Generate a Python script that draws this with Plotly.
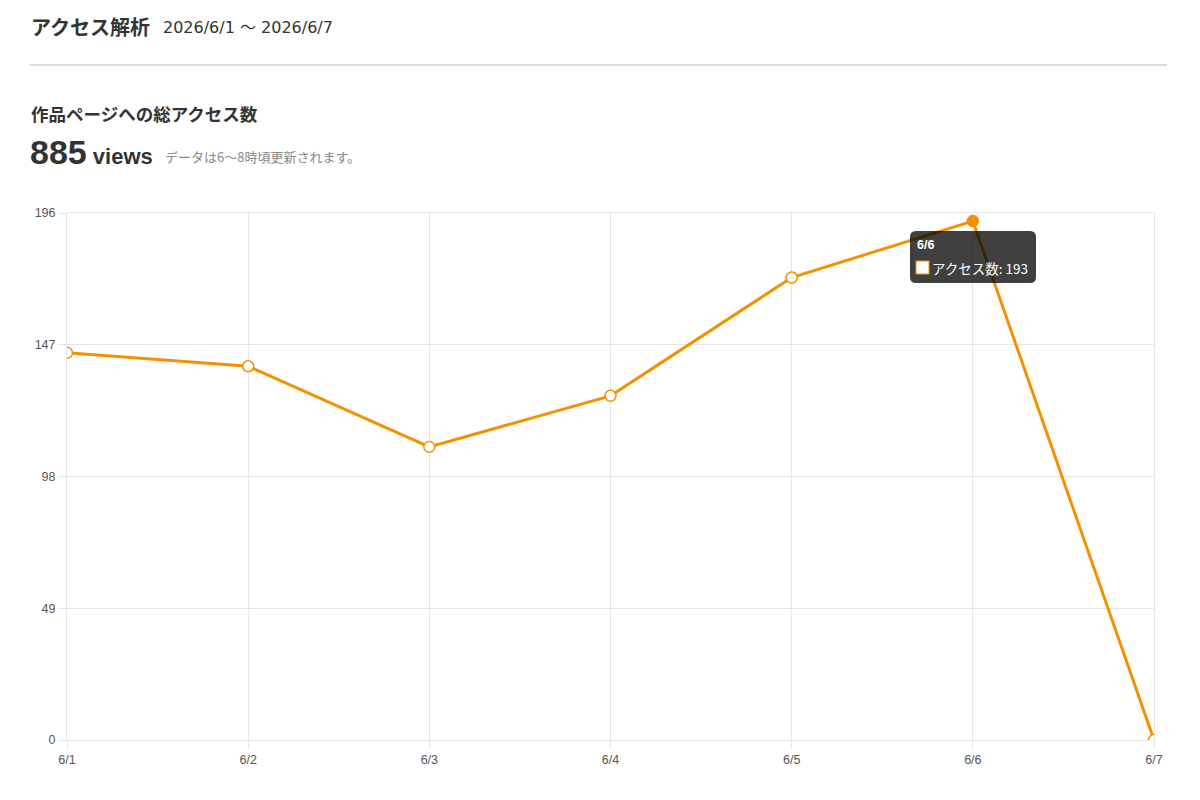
import plotly.graph_objects as go

# daily access counts
dates = ["6/1", "6/2", "6/3", "6/4", "6/5", "6/6", "6/7"]
views = [144, 139, 109, 128, 172, 193, 0]
y_ticks = [0, 49, 98, 147, 196]
hover_index = 5  # point that shows the tooltip (6/6)

ORANGE = "#f39200"
JP_FONT = "Noto Sans CJK JP, Liberation Sans, sans-serif"
NUM_FONT = "Liberation Sans, Noto Sans CJK JP, sans-serif"
WIDE_FONT = "DejaVu Sans, Noto Sans CJK JP, sans-serif"

# the page puts the figure 8px in from the top-left corner
OFF = 8
W, H = 1200 - OFF, 800 - OFF

# plot area in page pixels
L, R, T, B = 67, 1154, 213, 740


def px(x):
    return (x - L) / (R - L)


def py(y):
    return (B - y) / (B - T)


marker_fill = ["white"] * len(views)
marker_fill[hover_index] = ORANGE

fig = go.Figure(go.Scatter(
    x=dates, y=views,
    mode="lines+markers",
    line=dict(color=ORANGE, width=3),
    marker=dict(size=11, color=marker_fill, line=dict(color=ORANGE, width=1.5)),
    name="アクセス数",
    hoverinfo="skip",
))

grid = "#e6e6e6"
fig.update_xaxes(
    type="category", range=[0, len(dates) - 1],
    showgrid=True, gridcolor=grid, gridwidth=1,
    ticks="outside", ticklen=8, tickcolor=grid,
    showline=True, linecolor=grid, mirror=True, zeroline=False,
    tickfont=dict(family=NUM_FONT, size=12.5, color="#555"),
)
fig.update_yaxes(
    range=[0, 196], tickvals=y_ticks,
    showgrid=True, gridcolor=grid, gridwidth=1,
    ticks="outside", ticklen=8, tickcolor=grid,
    showline=True, linecolor=grid, mirror=True, zeroline=False,
    tickfont=dict(family=NUM_FONT, size=12.5, color="#555"),
)

annotations = [
    dict(text="<b>アクセス解析</b>", x=px(29), y=py(27), font=dict(family=JP_FONT, size=20, color="#333")),
    dict(text="2026/6/1 〜 2026/6/7", x=px(161), y=py(28), font=dict(family=WIDE_FONT, size=16, color="#333")),
    dict(text="<b>作品ページへの総アクセス数</b>", x=px(29), y=py(113), font=dict(family=JP_FONT, size=17.5, color="#333")),
    dict(text="<b><span style='font-size:34px'>885</span> views</b>", x=px(28), y=py(152),
         font=dict(family=NUM_FONT, size=22, color="#333")),
    dict(text="データは6〜8時頃更新されます。", x=px(163), y=py(156), font=dict(family=JP_FONT, size=13, color="#888")),
    # tooltip text
    dict(text="<b>6/6</b>", x=px(915), y=py(245), font=dict(family=NUM_FONT, size=12.5, color="white")),
    dict(text="アクセス数: " + str(views[hover_index]), x=px(930), y=py(268),
         font=dict(family=JP_FONT, size=13.5, color="white")),
]
for a in annotations:
    a.update(xref="paper", yref="paper", xanchor="left", yanchor="middle", showarrow=False)


def rounded_rect(x0, y0, x1, y1, r):
    # pixel box -> rounded path in paper coords
    rx = r / (R - L)
    ry = r / (B - T)
    X0, X1 = px(x0), px(x1)
    Y0, Y1 = py(y1), py(y0)  # bottom, top
    return (f"M {X0 + rx},{Y1} L {X1 - rx},{Y1} Q {X1},{Y1} {X1},{Y1 - ry} "
            f"L {X1},{Y0 + ry} Q {X1},{Y0} {X1 - rx},{Y0} L {X0 + rx},{Y0} "
            f"Q {X0},{Y0} {X0},{Y0 + ry} L {X0},{Y1 - ry} Q {X0},{Y1} {X0 + rx},{Y1} Z")


shapes = [
    # divider under the header
    dict(type="line", xref="paper", yref="paper", x0=px(30), x1=px(1167), y0=py(65), y1=py(65),
         line=dict(color="#dcdcdc", width=2)),
    # tooltip box
    dict(type="path", xref="paper", yref="paper", path=rounded_rect(910, 231, 1036, 283, 6),
         fillcolor="rgba(0,0,0,0.75)", line=dict(width=0), layer="above"),
    # tooltip colour box
    dict(type="rect", xref="paper", yref="paper", x0=px(916), x1=px(929), y0=py(274), y1=py(261),
         fillcolor="white", line=dict(color=ORANGE, width=1), layer="above"),
]

fig.update_layout(
    width=W, height=H,
    margin=dict(l=L - OFF, r=W - (R - OFF), t=T - OFF, b=H - (B - OFF)),
    paper_bgcolor="white", plot_bgcolor="white",
    showlegend=False,
    annotations=annotations,
    shapes=shapes,
    font=dict(family=JP_FONT, color="#333"),
)

fig.write_html("out.html")
